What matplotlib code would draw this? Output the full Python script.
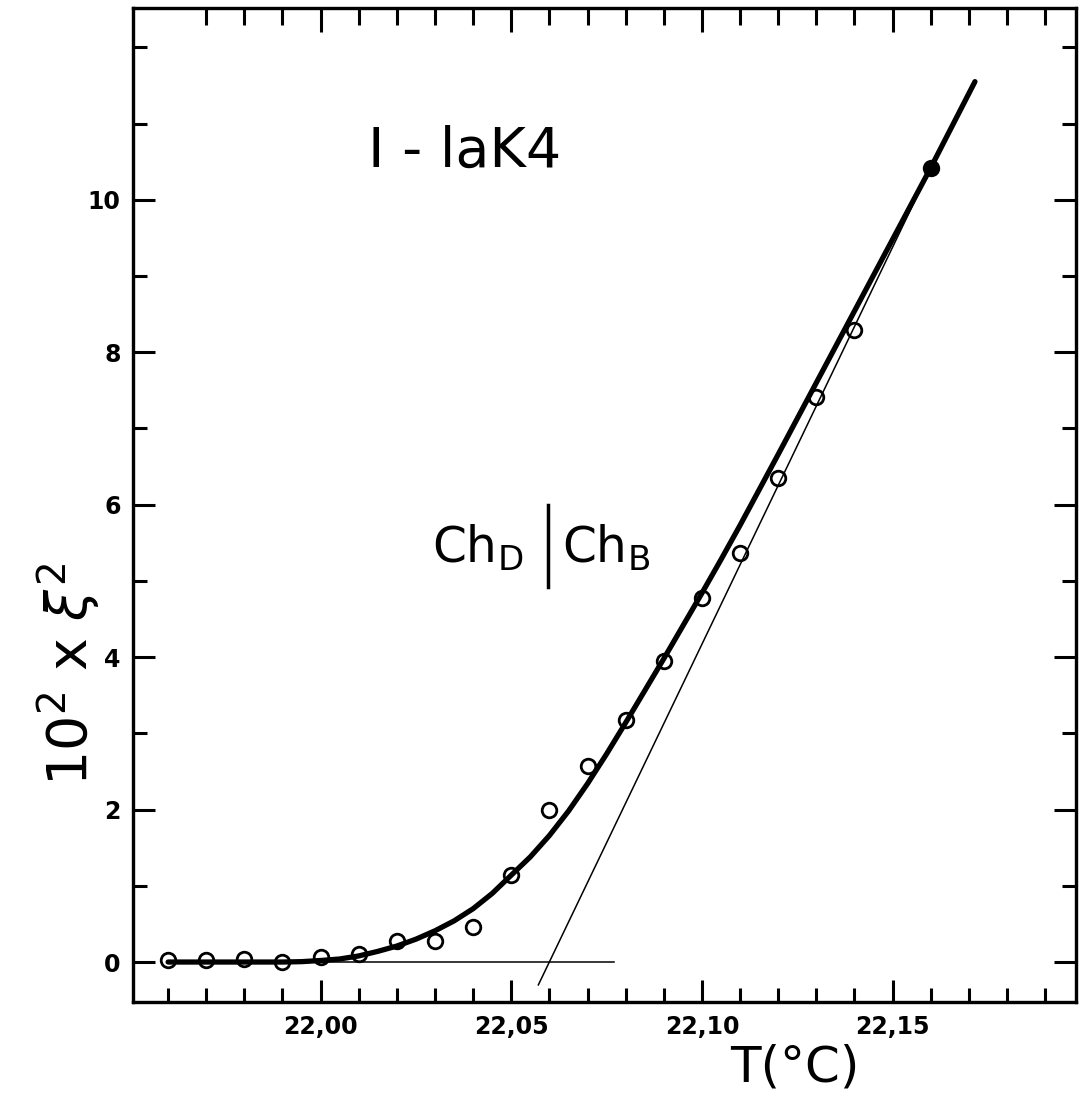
import matplotlib
matplotlib.use("Agg")
import matplotlib.pyplot as plt

plt.rcParams['font.family'] = ['DejaVu Sans']
plt.rcParams['mathtext.fontset'] = 'dejavusans'

# ---- data ----
temps_open = [21.96, 21.97, 21.98, 21.99, 22.00, 22.01, 22.02, 22.03, 22.04, 22.05,
              22.06, 22.07, 22.08, 22.09, 22.10, 22.11, 22.12, 22.13, 22.14]
xi2_open = [0.03, 0.03, 0.04, 0.00, 0.06, 0.11, 0.27, 0.27, 0.46, 1.14,
            1.99, 2.57, 3.17, 3.95, 4.77, 5.37, 6.35, 7.41, 8.29]
temps_filled = [22.16]
xi2_filled = [10.42]

curve_t = [21.96, 21.97, 21.98, 21.99, 21.995, 22.00, 22.005, 22.01, 22.015, 22.02,
           22.025, 22.03, 22.035, 22.04, 22.045, 22.05, 22.055, 22.06, 22.065, 22.07,
           22.075, 22.08, 22.085, 22.09, 22.095, 22.10, 22.105, 22.11, 22.12, 22.13,
           22.14, 22.15, 22.16, 22.1716]
curve_y = [0.0, 0.0, 0.0, 0.0, 0.005, 0.02, 0.04, 0.08, 0.14, 0.21,
           0.30, 0.41, 0.54, 0.70, 0.90, 1.14, 1.38, 1.66, 1.98, 2.34,
           2.73, 3.14, 3.56, 3.98, 4.41, 4.84, 5.28, 5.73, 6.66, 7.60,
           8.54, 9.48, 10.42, 11.55]

base_t = [21.96, 22.077]
base_y = [0.0, 0.0]
asym_t = [22.0571, 22.16]
asym_y = [-0.30, 10.42]

xtick_pos = [22.00, 22.05, 22.10, 22.15]
xtick_lab = ['22,00', '22,05', '22,10', '22,15']
ytick_pos = [0, 2, 4, 6, 8, 10]
ytick_lab = ['0', '2', '4', '6', '8', '10']
xminor_bottom = [21.96 + 0.01 * i for i in range(24)]
xminor_top = [21.97 + 0.01 * i for i in range(23)]
yminor = [1, 3, 5, 7, 9, 11, 12]

XLIM = (21.9508, 22.1981)
YLIM = (-0.525, 12.51)

fig = plt.figure(figsize=(10.85, 11.15), dpi=100)
ax = fig.add_axes([0.1226, 0.1013, 0.8691, 0.8911])

ax.plot(base_t, base_y, color='black', lw=1.1)
ax.plot(asym_t, asym_y, color='black', lw=1.1)
ax.plot(curve_t, curve_y, color='black', lw=3.8, solid_capstyle='round')
ax.plot(temps_open, xi2_open, linestyle='none', marker='o', ms=10.5,
        mfc='none', mec='black', mew=2.0)
ax.plot(temps_filled, xi2_filled, linestyle='none', marker='o', ms=10.5,
        mfc='black', mec='black', mew=2.0)

ax.set_xlim(*XLIM)
ax.set_ylim(*YLIM)

ax.set_xticks(xtick_pos)
ax.set_xticklabels(xtick_lab)
ax.set_xticks(xminor_bottom, minor=True)
ax.set_yticks(ytick_pos)
ax.set_yticklabels(ytick_lab)
ax.set_yticks(yminor, minor=True)
ax.tick_params(axis='both', which='major', direction='in', length=16, width=2.2,
               labelsize=17, pad=9, top=False, right=True)
ax.tick_params(axis='both', which='minor', direction='in', length=10, width=2.2,
               top=False, right=True)
for lab in ax.get_xticklabels() + ax.get_yticklabels():
    lab.set_fontweight('bold')

top = ax.twiny()
top.set_xlim(*XLIM)
top.set_xticks(xtick_pos)
top.set_xticks(xminor_top, minor=True)
top.tick_params(which='major', direction='in', length=17, width=2.2,
                labeltop=False, top=True, bottom=False)
top.tick_params(which='minor', direction='in', length=12, width=2.2,
                top=True, bottom=False)

for a in (ax, top):
    for s in a.spines.values():
        s.set_linewidth(2.3)

ax.set_xlabel('T(°C)', fontsize=36)
ax.xaxis.set_label_coords(0.702, -0.042)
ax.set_ylabel(r'$\mathregular{10^2}$ x $\xi^2$', fontsize=40)
ax.yaxis.set_label_coords(-0.032, 0.33)

ax.text(0.352, 0.8556, 'I - laK4', transform=ax.transAxes, fontsize=40,
        ha='center', va='center')
ax.text(0.414, 0.442, r'Ch$_\mathregular{D}$', transform=ax.transAxes, fontsize=35,
        ha='right', va='baseline')
ax.text(0.455, 0.442, r'Ch$_\mathregular{B}$', transform=ax.transAxes, fontsize=35,
        ha='left', va='baseline')
ax.plot([0.4401, 0.4401], [0.418, 0.5], transform=ax.transAxes, color='black', lw=2.5)

fig.savefig('out.png', dpi=100)
